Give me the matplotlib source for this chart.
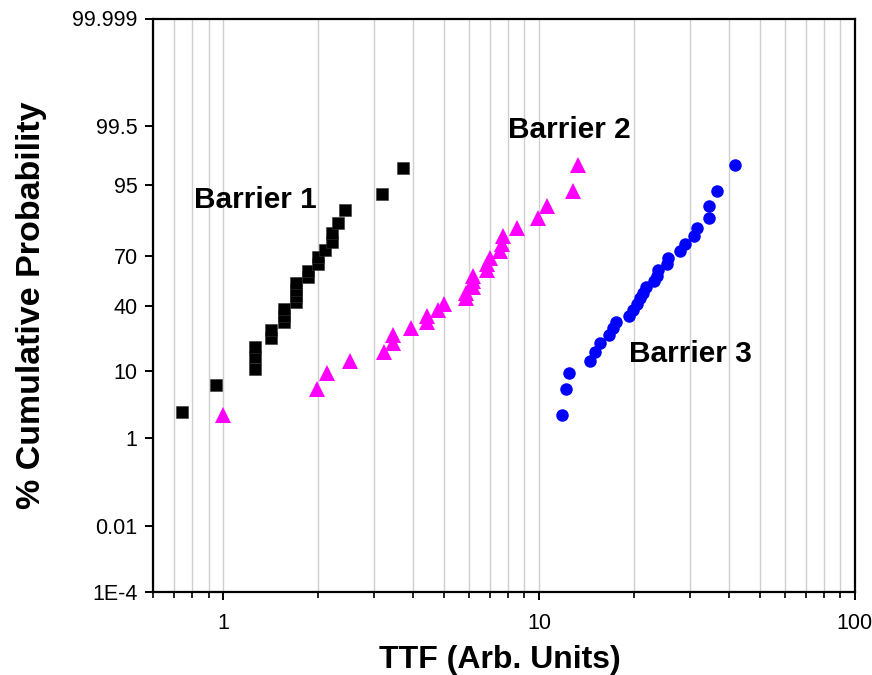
import numpy as np
import matplotlib
matplotlib.use("Agg")
import matplotlib.pyplot as plt
from matplotlib.ticker import FixedLocator, FixedFormatter, LogLocator, NullFormatter, NullLocator
from statistics import NormalDist

# Time-to-failure samples (arbitrary units) and cumulative failure percentages
barrier1_ttf = [0.742, 0.950, 1.260, 1.260, 1.260, 1.423, 1.423, 1.560, 1.560, 1.560,
                1.699, 1.699, 1.699, 1.699, 1.851, 1.851, 1.991, 1.991, 2.096, 2.210,
                2.210, 2.320, 2.429, 3.189, 3.717]
barrier1_pct = [2.76, 6.69, 10.63, 14.57, 18.50, 22.44, 26.38, 30.31, 34.25, 38.19,
                42.13, 46.06, 50.00, 53.94, 57.87, 61.81, 65.75, 69.69, 73.62, 77.56,
                81.50, 85.43, 89.37, 93.31, 97.24]

barrier2_ttf = [0.996, 1.985, 2.135, 2.532, 3.236, 3.456, 3.456, 3.931, 4.429, 4.429,
                4.777, 5.012, 5.859, 5.859, 6.193, 6.193, 6.193, 6.859, 6.859, 6.996,
                7.523, 7.617, 7.674, 8.537, 9.950, 10.62, 12.79, 13.27]
barrier2_pct = [2.46, 5.99, 9.51, 13.03, 16.55, 20.07, 23.59, 27.11, 30.63, 34.15,
                37.68, 41.20, 44.72, 48.24, 51.76, 55.28, 58.80, 62.32, 65.85, 69.37,
                72.89, 76.41, 79.93, 83.45, 86.97, 90.49, 94.01, 97.54]

barrier3_ttf = [11.80, 12.15, 12.45, 14.51, 15.05, 15.61, 16.66, 17.19, 17.50, 19.32,
                19.89, 20.39, 20.89, 21.40, 21.83, 23.14, 23.60, 23.77, 25.38, 25.68,
                27.97, 29.01, 31.04, 31.59, 34.55, 34.55, 36.71, 41.76]
barrier3_pct = [2.46, 5.99, 9.51, 13.03, 16.55, 20.07, 23.59, 27.11, 30.63, 34.15,
                37.68, 41.20, 44.72, 48.24, 51.76, 55.28, 58.80, 62.32, 65.85, 69.37,
                72.89, 76.41, 79.93, 83.45, 86.97, 90.49, 94.01, 97.54]

y_tick_values = [1e-4, 0.01, 1, 10, 40, 70, 95, 99.5, 99.999]
y_tick_labels = ["1E-4", "0.01", "1", "10", "40", "70", "95", "99.5", "99.999"]
x_tick_values = [1, 10, 100]
x_tick_labels = ["1", "10", "100"]

# Normal-probability (lognormal paper) transform for the percent axis
_nd = NormalDist()
_inv_cdf = np.vectorize(_nd.inv_cdf, otypes=[float])
_cdf = np.vectorize(_nd.cdf, otypes=[float])


def pct_to_z(p):
    p = np.clip(np.asarray(p, dtype=float) / 100.0, 1e-15, 1 - 1e-15)
    return _inv_cdf(p)


def z_to_pct(z):
    return _cdf(np.asarray(z, dtype=float)) * 100.0


plt.rcParams["font.family"] = ["Liberation Sans", "DejaVu Sans"]

fig = plt.figure(figsize=(8.72, 6.75), dpi=100)
ax = fig.add_axes([153 / 872, 83 / 675, 701.7 / 872, 573.5 / 675])

ax.set_xscale("log")
ax.set_yscale("function", functions=(pct_to_z, z_to_pct))
ax.set_xlim(0.6, 100)
ax.set_ylim(1e-4, 99.999)

ax.plot(barrier1_ttf, barrier1_pct, linestyle="none", marker="s", markersize=8.2,
        color="black", markeredgewidth=0.4, markeredgecolor="#333333", zorder=3)
ax.plot(barrier2_ttf, barrier2_pct, linestyle="none", marker="^", markersize=11,
        color="#ff00ff", markeredgewidth=0, zorder=3)
ax.plot(barrier3_ttf, barrier3_pct, linestyle="none", marker="o", markersize=9,
        color="#0000ff", markeredgewidth=0, zorder=3)

ax.xaxis.set_major_locator(FixedLocator(x_tick_values))
ax.xaxis.set_major_formatter(FixedFormatter(x_tick_labels))
ax.xaxis.set_minor_locator(LogLocator(base=10, subs=np.arange(2, 10)))
ax.xaxis.set_minor_formatter(NullFormatter())

ax.yaxis.set_major_locator(FixedLocator(y_tick_values))
ax.yaxis.set_major_formatter(FixedFormatter(y_tick_labels))
ax.yaxis.set_minor_locator(NullLocator())

ax.grid(True, axis="x", which="both", color="#cfcfcf", linewidth=1.0, zorder=0)
ax.set_axisbelow(True)

for side in ["left", "right", "top", "bottom"]:
    ax.spines[side].set_linewidth(1.6)
    ax.spines[side].set_color("black")

ax.tick_params(axis="both", which="major", direction="out", length=6, width=1.4,
               labelsize=15.5, pad=5, top=False, right=False)
ax.tick_params(axis="x", which="major", pad=9)
ax.tick_params(axis="x", which="minor", direction="out", length=4, width=1.2,
               top=False)

ax.set_xlabel("TTF (Arb. Units)", fontsize=23, fontweight="bold")
ax.set_ylabel("% Cumulative Probability", fontsize=24.5, fontweight="bold")
ax.xaxis.set_label_coords(0.494, -0.092)
ax.yaxis.set_label_coords(-0.151, 0.500)

label_kw = dict(transform=ax.transAxes, fontsize=21.5, fontweight="bold",
                ha="center", va="baseline")
ax.text(0.146, 0.669, "Barrier 1", **label_kw)
ax.text(0.5936, 0.7916, "Barrier 2", **label_kw)
ax.text(0.766, 0.401, "Barrier 3", **label_kw)

fig.savefig("out.png", dpi=100)
